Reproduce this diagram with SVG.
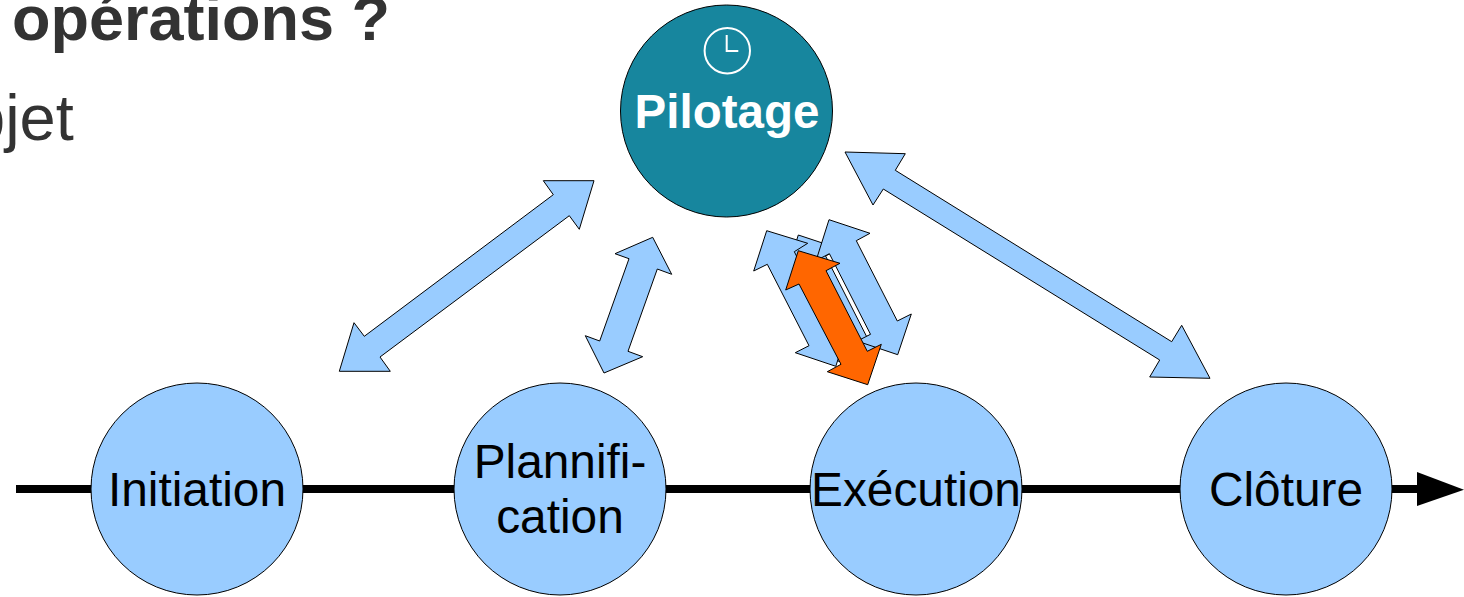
<svg xmlns="http://www.w3.org/2000/svg" width="1464" height="597" viewBox="0 0 1464 597">
<style>
text{font-family:"Liberation Sans",Arial,sans-serif}
.n{fill:#99ccff;stroke:#000;stroke-width:1}
.a{fill:#99ccff;stroke:#000;stroke-width:1;stroke-linejoin:miter}
.l{font-size:47.8px;fill:#000;text-anchor:middle}
.h{fill:#333}
</style>
<rect width="1464" height="597" fill="#fff"/>
<text class="h" x="12" y="40" font-size="63" font-weight="700">opérations ?</text>
<text class="h" x="-31" y="139.5" font-size="65">bjet</text>
<g id="connectors">
<rect id="timeline" x="16" y="485" width="1404" height="8" fill="#000"/>
<polygon id="timeline-head" points="1417,472 1464,489.7 1417,506" fill="#000"/>
<polygon id="arrow-initiation" class="a" points="594,180.7 579.3,229.3 569.3,215.7 380,357 390.3,371.3 339.3,371.3 354,322.7 364.3,336.3 553.3,194.7 543.3,180.7"/>
<polygon id="arrow-plannification" class="a" points="652.7,237.3 671.7,274.3 657.3,269 628,351.3 642.7,356.7 604,373 585.3,335.7 599.7,341 629,258.7 615,253.7"/>
<polygon id="arrow-cloture" class="a" points="845,152 905.3,153.7 895.3,170.3 1171.7,341.7 1181.7,325.3 1210,378.3 1149.7,377 1159.7,360 883.3,189 873,205"/>
<polygon id="arrow-execution-2" class="a" points="798.3,235 839.3,248.6 825.6,256 866.7,336.7 880,330 867.1,370.7 826,357 839.5,350 799,269 785.4,275.8"/>
<polygon id="arrow-execution-1" class="a" points="766.7,230.7 807.7,243.3 794.3,251.7 835.4,332.3 848.7,325.5 835.8,366.3 795.3,352.7 809,345.7 767.3,264.3 753.7,271"/>
<polygon id="arrow-execution-3" class="a" points="829,219.7 870,233.3 856.3,240.7 897.3,321 911.3,314 897.7,354.7 857.2,341.1 870.5,334.3 829.4,253.7 816.1,260.5"/>
<polygon id="arrow-execution-active" points="798.3,250.7 840,263.3 826,270.7 867.3,351.3 881.3,344.3 867.7,384.7 827.3,371.7 841,364.3 799,284 785.7,290" fill="#ff6600" stroke="#000" stroke-width="1"/>
</g>
<g id="pilotage">
<circle cx="726.5" cy="111" r="106" fill="#17869e" stroke="#000" stroke-width="1"/>
<circle cx="727.3" cy="50.7" r="22.7" fill="none" stroke="#fff" stroke-width="2"/>
<path d="M726.7 35V51H738.3" fill="none" stroke="#fff" stroke-width="2"/>
<text x="727" y="128" font-size="47.5" font-weight="700" fill="#fff" text-anchor="middle">Pilotage</text>
</g>
<g id="initiation">
<circle class="n" cx="197" cy="489" r="106"/>
<text class="l" x="197" y="506">Initiation</text>
</g>
<g id="plannification">
<circle class="n" cx="560" cy="489" r="106"/>
<text class="l" x="560" y="478">Plannifi-</text>
<text class="l" x="560" y="532.5">cation</text>
</g>
<g id="execution">
<circle class="n" cx="916" cy="489" r="106"/>
<text class="l" x="916" y="506">Exécution</text>
</g>
<g id="cloture">
<circle class="n" cx="1286" cy="489" r="106"/>
<text class="l" x="1286" y="506">Clôture</text>
</g>
</svg>
